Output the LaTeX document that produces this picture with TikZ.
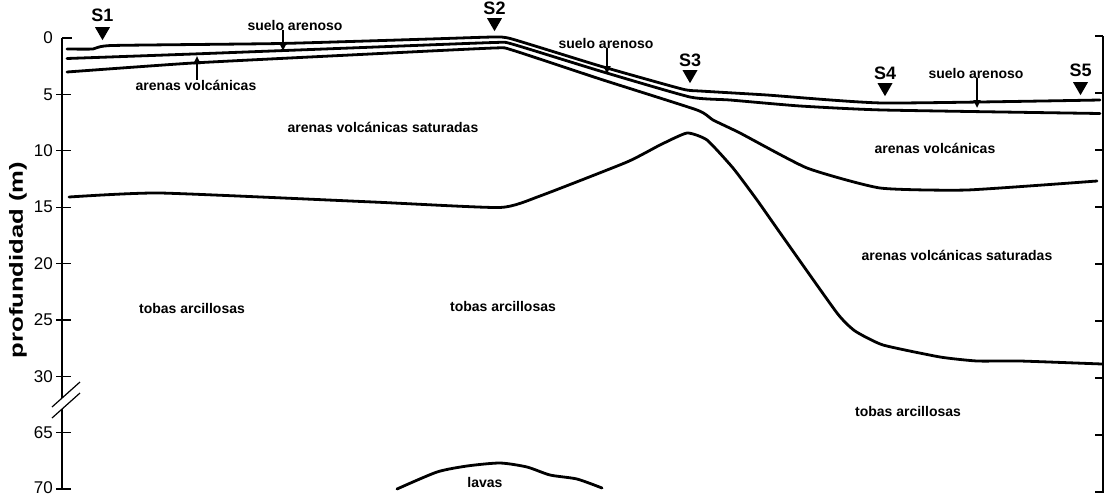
\documentclass[tikz,border=0pt]{standalone}
\usepackage{fontspec}
\setmainfont{Liberation Sans}
\usetikzlibrary{arrows.meta,shapes.geometric}

\tikzset{
  layer/.style={line width=2.8pt, line join=round, line cap=round},
  axisline/.style={line width=1.4pt},
  tickline/.style={line width=1.2pt},
  ticklabel/.style={anchor=east, inner sep=0pt, font=\fontsize{17}{19}\selectfont},
  unit/.style={inner sep=0pt, font=\fontsize{14}{16}\selectfont\bfseries},
  station/.style={inner sep=0pt, font=\fontsize{18}{20}\selectfont\bfseries},
  marker/.style={regular polygon, regular polygon sides=3, shape border rotate=180,
                 fill=black, draw=none, minimum size=17.3pt, inner sep=0pt},
  pointer/.style={line width=2pt, -{Triangle[length=8pt,width=7pt]}},
}

\begin{document}
\begin{tikzpicture}[x=1pt,y=-1pt]
\useasboundingbox (0,0) rectangle (1105,496);

% ---- left depth axis (broken between 30 m and 65 m)
\coordinate (ax0) at (62,37.5);
\coordinate (axb1) at (62,398);
\coordinate (axb2) at (62,409);
\coordinate (ax70) at (62,489);
\draw[axisline] (ax0) -- (axb1);
\draw[axisline] (axb2) -- (ax70);
\draw[tickline] (52,407) -- (80,382);
\draw[tickline] (52,418) -- (80,393);
\draw[tickline] (62,38) -- (72,38);
\node[ticklabel] (t0) at (53,38) {0};
\foreach \d/\yy/\ty in {5/94.4/94.4,10/150.8/150.8,15/207.2/207.2,20/263.6/263.6,
                        25/320/320,30/376.4/376.4,65/432.5/432.5,70/489/487.5}{
  \draw[tickline] (56,\yy) -- (71,\yy);
  \node[ticklabel] (t\d) at (53,\ty) {\d};
}
\node[rotate=90, xscale=1.35, inner sep=0pt, font=\fontsize{19}{21}\selectfont\bfseries] (ylab) at (18,260) {profundidad (m)};

% ---- right axis
\draw[axisline] (1103,36) -- (1103,493);
\foreach \k in {0,...,8}{
  \draw[tickline] (1095,36+57*\k) -- (1103,36+57*\k);
}

% ---- layer boundaries
\draw[layer] plot[smooth, tension=0.3] coordinates {
  (67,49) (93,49) (112,45.5) (280,43.5) (430,39) (494,37) (512,39)
  (600,66) (682,89) (700,91) (767,95) (883,103) (1100,100)};
\draw[layer] plot[smooth, tension=0.3] coordinates {
  (67,58.5) (193,54) (350,48) (494,42.5) (512,44) (600,71) (690,97)
  (730,100) (800,106) (883,110) (1100,113.5)};
\draw[layer] plot[smooth, tension=0.3] coordinates {
  (67,72) (193,63) (350,55) (494,48) (512,50) (600,79) (697,110)
  (713,120) (740,133) (807,168) (880,188) (967,190) (1097,181)};
\draw[layer] plot[smooth, tension=0.3] coordinates {
  (69,197) (160,193) (373,202) (500,207.5) (540,196) (627,162) (660,145)
  (687,133) (707,140) (733,168) (757,200) (783,237) (837,313) (855,331)
  (883,345) (940,357) (977,361) (1020,361) (1102,364)};
\draw[layer] plot[smooth, tension=0.4] coordinates {
  (397,489) (437,472) (467,466) (500,463) (527,467) (550,475) (577,479) (602,488)};

% ---- boreholes
\foreach \n/\xx/\ly/\my in {1/102.5/15/31.5, 2/494.5/8/22.5, 3/690/60/74.5, 4/885/73/87.5, 5/1080.5/70/86.5}{
  \node[station] (S\n) at (\xx,\ly) {S\n};
  \node[marker] (m\n) at (\xx,\my) {};
}

% ---- unit labels
\node[unit] (suelo1) at (295,25) {suelo arenoso};
\node[unit] (volc1) at (196,85) {arenas volcánicas};
\node[unit] (sat1) at (383,127) {arenas volcánicas saturadas};
\node[unit] (suelo2) at (606,43) {suelo arenoso};
\node[unit] (suelo3) at (976,73) {suelo arenoso};
\node[unit] (volc2) at (935,148) {arenas volcánicas};
\node[unit] (sat2) at (957,255) {arenas volcánicas saturadas};
\node[unit] (tobas1) at (192,308) {tobas arcillosas};
\node[unit] (tobas2) at (503,306) {tobas arcillosas};
\node[unit] (tobas3) at (908,411) {tobas arcillosas};
\node[unit] (lavas) at (485,482) {lavas};

% ---- pointers to thin layers
\coordinate (p1) at (283,51);
\coordinate (p2) at (197,56);
\coordinate (p3) at (607,74);
\coordinate (p4) at (977,108);
\draw[pointer] (suelo1.south -| p1) -- (p1);
\draw[pointer] (volc1.north -| p2) -- (p2);
\draw[pointer] (suelo2.south -| p3) -- (p3);
\draw[pointer] (suelo3.south -| p4) -- (p4);
\end{tikzpicture}
\end{document}
